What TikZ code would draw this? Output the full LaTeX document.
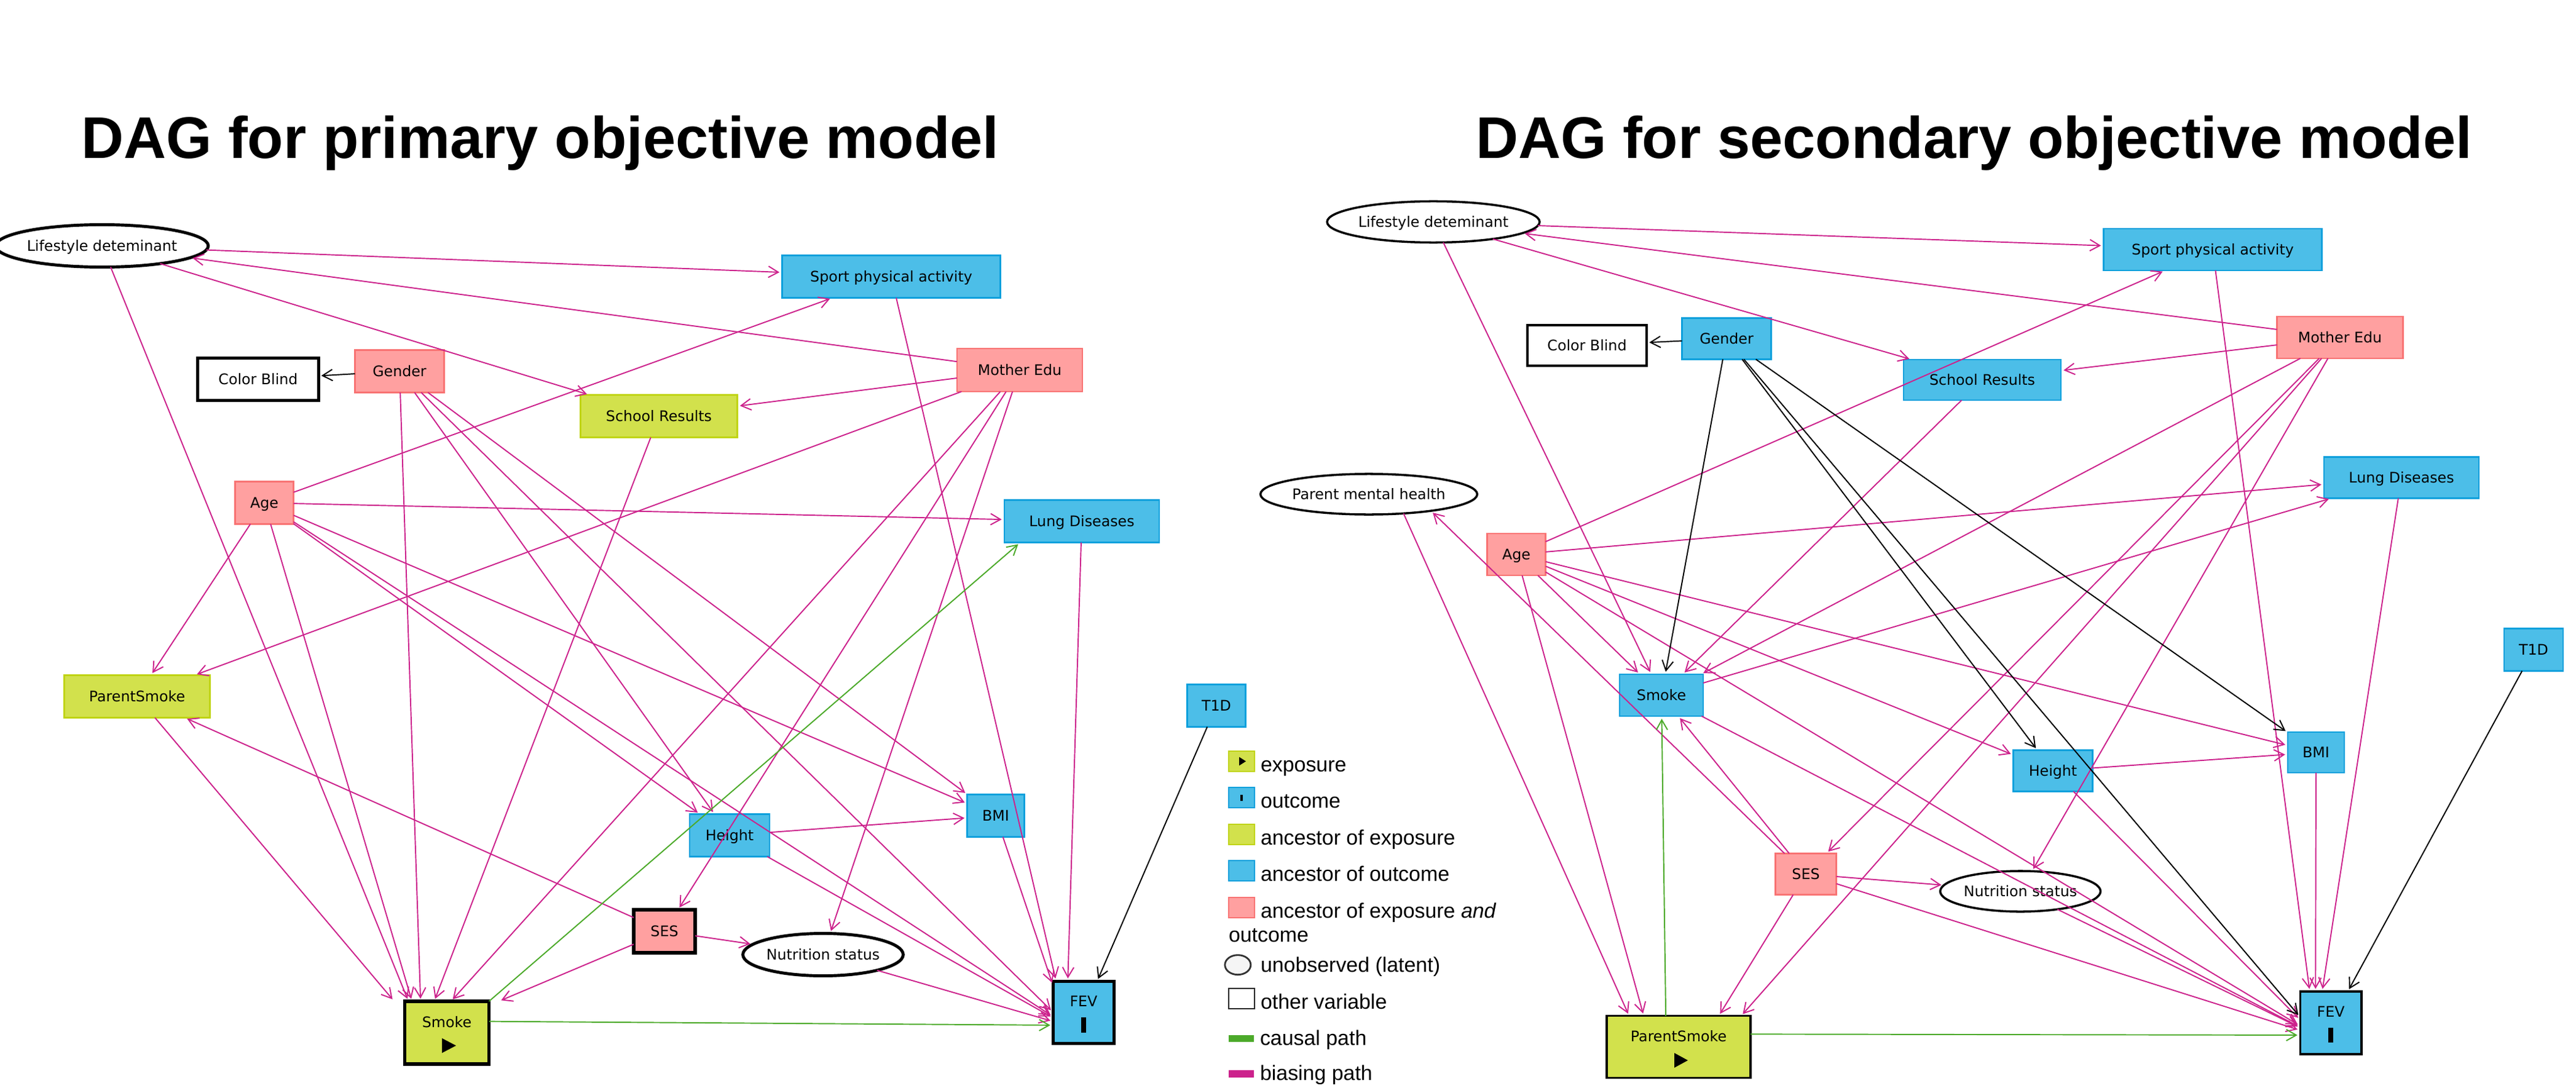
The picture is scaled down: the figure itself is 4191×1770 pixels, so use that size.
\documentclass[tikz,border=0pt]{standalone}
\usepackage{fontspec}
\newfontfamily\nfont{DejaVu Sans}
\newfontfamily\afont{Liberation Sans}
\usetikzlibrary{arrows.meta,shapes.geometric,calc}
\definecolor{pinkline}{RGB}{204,34,140}
\definecolor{greenline}{RGB}{76,170,42}
\definecolor{expfill}{RGB}{210,225,76}
\definecolor{expdraw}{RGB}{192,212,20}
\definecolor{outfill}{RGB}{76,190,232}
\definecolor{outdraw}{RGB}{14,160,220}
\definecolor{ancfill}{RGB}{255,160,160}
\definecolor{ancdraw}{RGB}{248,115,115}
\definecolor{latfill}{RGB}{245,245,245}
\begin{document}
\begin{tikzpicture}[x=0.01cm,y=-0.01cm,
  every node/.style={inner sep=0pt,outer sep=0pt},
  var/.style={draw,rectangle,line width=0.75pt,font=\nfont\fontsize{6.75}{8}\selectfont,text height=6pt,text depth=1.1pt},
  exv/.style={var,fill=expfill,draw=expdraw},
  otv/.style={var,fill=outfill,draw=outdraw},
  anv/.style={var,fill=ancfill,draw=ancdraw},
  ohv/.style={var,fill=white,draw=black},
  lat/.style={var,ellipse,fill=white,draw=black,line width=1pt},
  keyA/.style={draw=black,line width=1.6pt},
  keyB/.style={draw=black,line width=1.1pt},
  sz/.style 2 args={minimum width=#1cm,minimum height=#2cm},
  tgt/.style 2 args={rectangle,draw=none,fill=none,minimum width=#1cm,minimum height=#2cm},
  lab/.style={font=\nfont\fontsize{6.75}{8}\selectfont,text height=6pt,text depth=1.1pt},
  ebase/.style={line width=0.55pt,shorten >=1.2pt,-{Straight Barb[length=4.6pt,width=5.2pt]}},
  pe/.style={ebase,draw=pinkline},
  ge/.style={ebase,draw=greenline},
  ke/.style={ebase,draw=black},
  ttl/.style={font=\afont\bfseries\fontsize{27.2}{32}\selectfont,anchor=base west},
  lgt/.style={font=\afont\fontsize{9.64}{11.6}\selectfont,anchor=base west},
  lgi/.style={draw,rectangle,line width=0.8pt,minimum width=0.42cm,minimum height=0.33cm,anchor=south west}
]
\useasboundingbox (0,0) rectangle (4191,1770);

% titles
\node[ttl] (t1) at (132,258) {DAG for primary objective model};
\node[ttl] (t2) at (2401,258) {DAG for secondary objective model};

% ---------------- left panel nodes
\node[lat,line width=1.4pt,sz={3.28}{0.69}] (life1) at (166,400) {Lifestyle deteminant};
\node[otv,sz={3.55}{0.69}] (sport1) at (1450,450) {Sport physical activity};
\node[ohv,line width=1.5pt,sz={1.97}{0.69}] (cb1) at (420,617) {Color Blind};
\node[anv,sz={1.45}{0.69}] (gender1) at (650,604) {Gender};
\node[anv,sz={2.04}{0.70}] (mother1) at (1659,602) {Mother Edu};
\node[exv,sz={2.55}{0.69}] (school1) at (1072,677) {School Results};
\node[anv,sz={0.95}{0.69}] (age1) at (430,818) {Age};
\node[otv,sz={2.52}{0.69}] (lung1) at (1760,848) {Lung Diseases};
\node[exv,sz={2.37}{0.69}] (ps1) at (223,1133) {ParentSmoke};
\node[otv,sz={0.95}{0.69}] (t1d1) at (1979,1148) {T1D};
\node[otv,sz={0.93}{0.69}] (bmi1) at (1620,1327) {BMI};
\node[otv,sz={1.30}{0.69}] (height1) at (1187,1359) {Height};
\node[anv,keyA,sz={1.00}{0.70}] (ses1) at (1081,1515) {SES};
\node[lat,line width=1.4pt,sz={2.54}{0.69}] (nut1) at (1339,1553) {Nutrition status};
\node[exv,keyA,sz={1.37}{1.02}] (smoke1) at (727,1680) {};
\node[otv,keyA,sz={0.99}{1.01}] (fev1) at (1763,1647) {};
\node[lab] (smoke1t) at ($(smoke1.center)+(0,-17)$) {Smoke};
\node[lab] (fev1t) at ($(fev1.center)+(0,-18.5)$) {FEV};
\fill ($(smoke1.center)+(-8,9)$) -- ++(0,24) -- ++(23,-12) -- cycle;
\fill ($(fev1.center)+(-4,8)$) rectangle ++(8,25);
% edge targets of the exposure / outcome boxes
\node[tgt={2.60}{1.06}] (smoke1e) at (686,1682) {};
\node[tgt={0.44}{1.44}] (fev1e) at (1735,1668) {};

% ---------------- right panel nodes
\node[lat,sz={3.31}{0.67}] (life2) at (2332,361) {Lifestyle deteminant};
\node[otv,sz={3.55}{0.68}] (sport2) at (3600,406) {Sport physical activity};
\node[ohv,line width=1pt,sz={1.94}{0.66}] (cb2) at (2582,562) {Color Blind};
\node[otv,sz={1.45}{0.67}] (gender2) at (2809,551) {Gender};
\node[anv,sz={2.05}{0.68}] (mother2) at (3807,549) {Mother Edu};
\node[otv,sz={2.56}{0.66}] (school2) at (3225,618) {School Results};
\node[lat,sz={3.41}{0.66}] (pmh2) at (2227,804) {Parent mental health};
\node[otv,sz={2.52}{0.67}] (lung2) at (3907,777) {Lung Diseases};
\node[anv,sz={0.95}{0.68}] (age2) at (2467,902) {Age};
\node[otv,sz={0.96}{0.69}] (t1d2) at (4122,1057) {T1D};
\node[otv,sz={1.36}{0.68}] (smoke2) at (2703,1131) {Smoke};
\node[otv,sz={1.29}{0.67}] (height2) at (3340,1254) {Height};
\node[otv,sz={0.92}{0.66}] (bmi2) at (3768,1224) {BMI};
\node[anv,sz={0.99}{0.67}] (ses2) at (2938,1422) {SES};
\node[lat,sz={2.52}{0.66}] (nut2) at (3287,1450) {Nutrition status};
\node[exv,keyB,sz={2.34}{1.01}] (ps2) at (2731,1703) {};
\node[otv,keyB,sz={0.99}{1.02}] (fev2) at (3792,1664) {};
\node[lab] (ps2t) at ($(ps2.center)+(0,-17)$) {ParentSmoke};
\node[lab] (fev2t) at ($(fev2.center)+(0,-18)$) {FEV};
\fill ($(ps2.center)+(-7,10)$) -- ++(0,24) -- ++(22,-12) -- cycle;
\fill ($(fev2.center)+(-4.5,8)$) rectangle ++(8.5,24);
% edge targets of the exposure / outcome boxes
\node[tgt={4.00}{2.74}] (ps2e) at (2712,1790) {};
\node[tgt={0.50}{1.42}] (fev2e) at (3767,1684) {};

% ---------------- left panel edges
\foreach \a/\b in {life1/sport1,mother1/life1,life1/school1,
  age1/sport1,mother1/school1,mother1/ps1,mother1/ses1,mother1/nut1,
  gender1/height1,gender1/bmi1,
  age1/lung1,age1/ps1,age1/bmi1,age1/height1,
  ses1/ps1,ses1/nut1,height1/bmi1}
  \draw[pe] (\a) -- (\b);
\foreach \a in {life1,mother1,gender1,age1,school1,ps1,ses1}
  \draw[pe] (\a) -- (smoke1e);
\foreach \a in {sport1,gender1,age1,lung1,height1,nut1,bmi1}
  \draw[pe] (\a) -- (fev1e);
\draw[ge] (smoke1.north east) -- (lung1.199);
\draw[ge] (smoke1.15) -- (fev1e);
\draw[ke] (gender1) -- (cb1);
\draw[ke] (t1d1) -- (fev1);

% ---------------- right panel edges
\foreach \a/\b in {life2/sport2,mother2/life2,life2/school2,life2/smoke2,
  age2/sport2,age2/lung2,age2/bmi2,age2/height2,age2/smoke2,
  smoke2/lung2,school2/smoke2,mother2/smoke2,mother2/school2,mother2/ses2,mother2/nut2,
  ses2/smoke2,ses2/nut2,height2/bmi2}
  \draw[pe] (\a) -- (\b);
\draw[pe] (ses2) -- (pmh2.-15);
\draw[pe] (pmh2.-29) -- (ps2e);
\foreach \a in {age2,mother2,ses2}
  \draw[pe] (\a) -- (ps2e);
\foreach \a in {age2,smoke2,ses2,sport2,lung2,bmi2,height2,nut2}
  \draw[pe] (\a) -- (fev2e);
\draw[ge] (ps2e) -- (smoke2);
\draw[ge] (ps2.10) -- (fev2e);
\foreach \a/\b in {gender2/cb2,gender2/smoke2,gender2/bmi2,gender2/height2}
  \draw[ke] (\a) -- (\b);
\draw[ke] (gender2) -- (fev2e);
\draw[ke] (t1d2) -- (fev2);

% ---------------- legend
\node[lgi,fill=expfill,draw=expdraw] (lg1) at (1999,1255) {};
\fill ($(lg1.center)+(-4,-7)$) -- ++(0,14) -- ++(11,-7) -- cycle;
\node[lgt] (lg1t) at (2051,1255) {exposure};
\node[lgi,fill=outfill,draw=outdraw] (lg2) at (1999,1314) {};
\fill ($(lg2.center)+(-2,-5)$) rectangle ++(4,10);
\node[lgt] (lg2t) at (2051,1314) {outcome};
\node[lgi,fill=expfill,draw=expdraw] (lg3) at (1999,1374) {};
\node[lgt] (lg3t) at (2051,1374) {ancestor of exposure};
\node[lgi,fill=outfill,draw=outdraw] (lg4) at (1999,1433) {};
\node[lgt] (lg4t) at (2051,1433) {ancestor of outcome};
\node[lgi,fill=ancfill,draw=ancdraw] (lg5) at (1999,1493) {};
\node[lgt] (lg5t) at (2051,1493) {ancestor of exposure \textit{and}};
\node[lgt] (lg5u) at (1999,1532) {outcome};
\node[ellipse,draw=black!80,fill=latfill,line width=0.8pt,minimum width=0.42cm,minimum height=0.32cm,anchor=south west] (lg6) at (1999,1581) {};
\node[lgt] (lg6t) at (2051,1581) {unobserved (latent)};
\node[lgi,fill=white,draw=black!85] (lg7) at (1999,1641) {};
\node[lgt] (lg7t) at (2051,1641) {other variable};
\fill[greenline] (1999,1684) rectangle (2040,1695);
\node[lgt] (lg8t) at (2050,1700) {causal path};
\fill[pinkline] (1999,1741) rectangle (2040,1753);
\node[lgt] (lg9t) at (2050,1757) {biasing path};
\end{tikzpicture}
\end{document}
